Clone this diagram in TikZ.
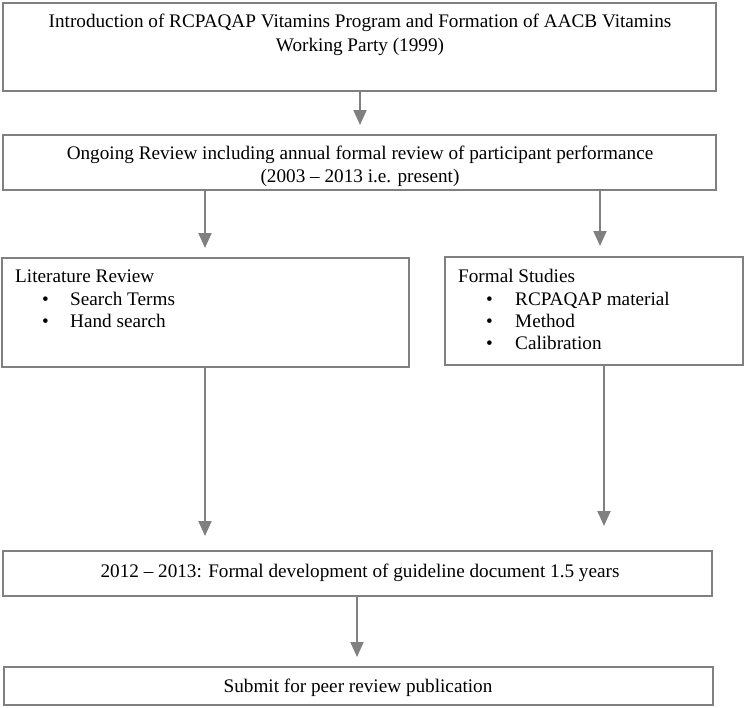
\documentclass[tikz,border=0pt]{standalone}
\usepackage{fontspec}
\setmainfont{Liberation Serif}
\usetikzlibrary{arrows.meta}
\definecolor{linegray}{RGB}{128,128,128}
\tikzset{
  boxframe/.style={draw=linegray, line width=2pt},
  txt/.style={inner sep=0pt, anchor=base, font=\fontsize{19.2}{23}\selectfont},
  ltxt/.style={inner sep=0pt, anchor=base west, font=\fontsize{19.2}{23}\selectfont},
  flow/.style={draw=linegray, line width=2pt, -{Triangle[length=15pt,width=13pt]}, shorten >=0pt}
}
\begin{document}
\begin{tikzpicture}[x=1pt,y=-1pt]
\useasboundingbox (0,0) rectangle (746,707);
% boxes
\draw[boxframe] (3,3) rectangle (716,91);
\coordinate (b1s) at (360,91);
\draw[boxframe] (3,135) rectangle (716,190);
\coordinate (b2l) at (205,190);
\coordinate (b2r) at (600,190);
\draw[boxframe] (2,258) rectangle (409,367);
\coordinate (b3b) at (205,367);
\draw[boxframe] (445,257) rectangle (743,365);
\coordinate (b4b) at (604,365);
\draw[boxframe] (3,551) rectangle (712,596);
\coordinate (b5b) at (357,596);
\draw[boxframe] (4,667) rectangle (713,705);
% texts
\node[txt] (t1a) at (360,27) {Introduction of RCPAQAP Vitamins Program and Formation of AACB Vitamins};
\node[txt] (t1b) at (360,51) {Working Party (1999)};
\node[txt] (t2a) at (360,159) {Ongoing Review including annual formal review of participant performance};
\node[txt] (t2b) at (360,182) {(2003 -- 2013 i.e. present)};
\node[ltxt] (t3) at (15,282) {Literature Review};
\node[ltxt] (t3a) at (42,305) {\textbullet};
\node[ltxt] (t3b) at (70,305) {Search Terms};
\node[ltxt] (t3c) at (42,327) {\textbullet};
\node[ltxt] (t3d) at (70,327) {Hand search};
\node[ltxt] (t4) at (458,282) {Formal Studies};
\node[ltxt] (t4a) at (486,305) {\textbullet};
\node[ltxt] (t4b) at (515,305) {RCPAQAP material};
\node[ltxt] (t4c) at (486,327) {\textbullet};
\node[ltxt] (t4d) at (515,327) {Method};
\node[ltxt] (t4e) at (486,349) {\textbullet};
\node[ltxt] (t4f) at (515,349) {Calibration};
\node[txt] (t5) at (360,577) {2012 -- 2013: Formal development of guideline document 1.5 years};
\node[txt] (t6) at (358,692) {Submit for peer review publication};
% arrows
\coordinate (a1e) at (360,125);
\coordinate (a2e) at (205,248);
\coordinate (a3e) at (600,246);
\coordinate (a4e) at (205,536);
\coordinate (a5e) at (604,526);
\coordinate (a6e) at (357,657);
\draw[flow] (b1s) -- (a1e);
\draw[flow] (b2l) -- (a2e);
\draw[flow] (b2r) -- (a3e);
\draw[flow] (b3b) -- (a4e);
\draw[flow] (b4b) -- (a5e);
\draw[flow] (b5b) -- (a6e);
\end{tikzpicture}
\end{document}
